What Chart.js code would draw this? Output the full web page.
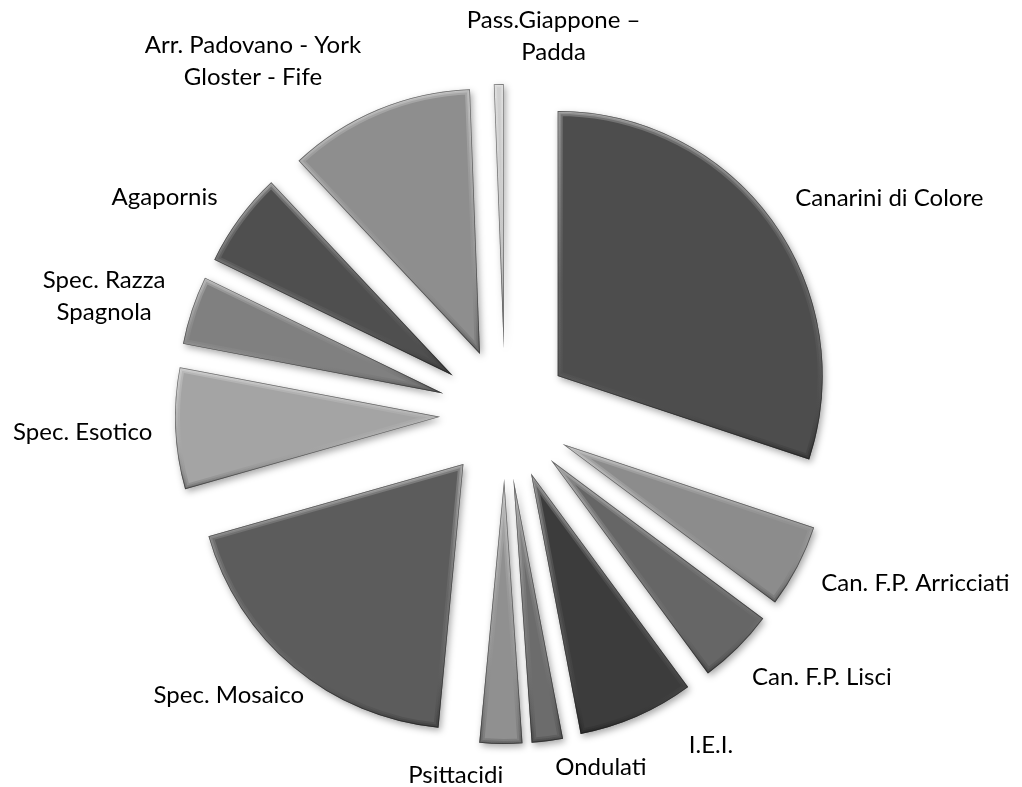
<!DOCTYPE html>
<html>
<head>
<meta charset="utf-8">
<script src="https://cdn.jsdelivr.net/npm/chart.js@4.4.0/dist/chart.umd.min.js"></script>
<style>
  html, body { margin: 0; padding: 0; background: #fff; }
  #wrap { width: 1022px; height: 787px; }
</style>
</head>
<body>
<div id="wrap"><canvas id="pieChart"></canvas></div>
<script>
// categories in clockwise order from 12 o'clock
const categories = [
    'Canarini di Colore', 'Can. F.P. Arricciati', 'Can. F.P. Lisci', 'I.E.I.',
    'Ondulati', 'Psittacidi', 'Spec. Mosaico', 'Spec. Esotico',
    'Spec. Razza Spagnola', 'Agapornis', 'Arr. Padovano - York Gloster - Fife',
    'Pass.Giappone – Padda'
];
// how each label wraps on the chart
const labelLines = [
    ['Canarini di Colore'], ['Can. F.P. Arricciati'], ['Can. F.P. Lisci'], ['I.E.I.'],
    ['Ondulati'], ['Psittacidi'], ['Spec. Mosaico'], ['Spec. Esotico'],
    ['Spec. Razza', 'Spagnola'], ['Agapornis'], ['Arr. Padovano - York', 'Gloster - Fife'],
    ['Pass.Giappone –', 'Padda']
];
// share of total (%)
const shares = [30.1, 5.1, 4.7, 7.1, 1.9, 2.6, 19.1, 7.4, 4.2, 5.8, 11.4, 0.6];

const sliceColors = [
    '#4d4d4d', '#8c8c8c', '#666666', '#3c3c3c', '#6c6c6c', '#909090',
    '#5c5c5c', '#a4a4a4', '#808080', '#4f4f4f', '#8e8e8e', '#c4c4c4'
];
// small corrections to where each label sits (px)
const labelNudge = [
    [13, 0], [13, -5], [6, 5], [47, 2], [52, -2], [-45, 3],
    [18, 2], [-11, 3], [-15, 22], [-12, 2], [-12, -5], [55, -4]
];

const LABEL_FONT = '24px Lato';
const LINE_H = 32;
const EXPLODE = 65; // how far every slice is pulled out from the centre

// soft bevel on the slice edges: light on top, darker below
function bevel(ctx, arc) {
    const x = arc.x, y = arc.y, r = arc.outerRadius;
    const a0 = arc.startAngle, a1 = arc.endAngle;
    const ys = [y, y + Math.sin(a0) * r, y + Math.sin(a1) * r];
    for (let k = -2; k <= 2; k++) {
        const a = Math.PI / 2 + k * Math.PI;
        if (a > a0 && a < a1) ys.push(y + Math.sin(a) * r);
    }
    const top = Math.min.apply(null, ys), bottom = Math.max.apply(null, ys);
    ctx.save();
    ctx.shadowColor = 'transparent';
    ctx.beginPath();
    ctx.moveTo(x, y);
    ctx.arc(x, y, r, a0, a1);
    ctx.closePath();
    ctx.clip();
    const g = ctx.createLinearGradient(0, top, 0, bottom + 1);
    g.addColorStop(0, 'rgba(255, 255, 255, 0.22)');
    g.addColorStop(0.5, 'rgba(255, 255, 255, 0.05)');
    g.addColorStop(1, 'rgba(0, 0, 0, 0.14)');
    ctx.lineJoin = 'round';
    ctx.strokeStyle = g;
    [10, 6, 3].forEach(function(w) {
        ctx.lineWidth = w;
        ctx.stroke();
    });
    ctx.lineWidth = 1.5;
    ctx.strokeStyle = 'rgba(20, 20, 20, 0.5)';
    ctx.stroke();
    ctx.restore();
}

// chart.js's own offset also grows thin slices, so push each arc out by hand
const explode = {
    id: 'explode',
    beforeDatasetDraw(chart, args) {
        args.meta.data.forEach(function(arc) {
            if (arc._exploded) return;
            arc._exploded = true;
            const baseDraw = arc.draw;
            arc.draw = function(ctx, area) {
                const mid = (this.startAngle + this.endAngle) / 2;
                ctx.save();
                ctx.translate(Math.cos(mid) * EXPLODE, Math.sin(mid) * EXPLODE);
                baseDraw.call(this, ctx, area);
                bevel(ctx, this);
                ctx.restore();
            };
        });
    }
};

const sliceShadow = {
    id: 'sliceShadow',
    beforeDatasetsDraw(chart) {
        const ctx = chart.ctx;
        ctx.save();
        ctx.shadowColor = 'rgba(0, 0, 0, 0.35)';
        ctx.shadowBlur = 7;
        ctx.shadowOffsetX = 2;
        ctx.shadowOffsetY = 3;
    },
    afterDatasetsDraw(chart) {
        chart.ctx.restore();
    }
};

const sliceLabels = {
    id: 'sliceLabels',
    afterDatasetsDraw(chart) {
        const ctx = chart.ctx;
        const arcs = chart.getDatasetMeta(0).data;
        ctx.save();
        ctx.font = LABEL_FONT;
        ctx.fillStyle = '#000';
        ctx.textAlign = 'center';
        ctx.textBaseline = 'middle';
        arcs.forEach(function(arc, i) {
            const mid = (arc.startAngle + arc.endAngle) / 2;
            const r = arc.outerRadius + EXPLODE + 12;
            const dx = Math.cos(mid), dy = Math.sin(mid);
            const ax = arc.x + dx * r, ay = arc.y + dy * r;
            const lines = labelLines[i];
            const w = Math.max.apply(null, lines.map(l => ctx.measureText(l).width));
            const h = lines.length * LINE_H;
            const sx = dx > 0.3 ? 1 : dx < -0.3 ? -1 : 0;
            const sy = dy > 0.3 ? 1 : dy < -0.3 ? -1 : 0;
            const cx = ax + sx * w / 2 + labelNudge[i][0];
            const cy = ay + sy * h / 2 + labelNudge[i][1];
            lines.forEach(function(line, k) {
                ctx.fillText(line, cx, cy - h / 2 + LINE_H * (k + 0.5));
            });
        });
        ctx.restore();
    }
};

const ctx = document.getElementById('pieChart');
new Chart(ctx, {
    type: 'pie',
    data: {
        labels: categories,
        datasets: [{
            data: shares,
            backgroundColor: sliceColors,
            borderWidth: 0,
            clip: false
        }]
    },
    options: {
        responsive: true,
        maintainAspectRatio: false,
        animation: false,
        radius: 265,
        layout: {
            padding: { left: 0, right: 12, top: 41, bottom: 0 }
        },
        plugins: {
            legend: { display: false },
            tooltip: { enabled: false }
        },
        events: []
    },
    plugins: [explode, sliceShadow, sliceLabels]
});
</script>
</body>
</html>
